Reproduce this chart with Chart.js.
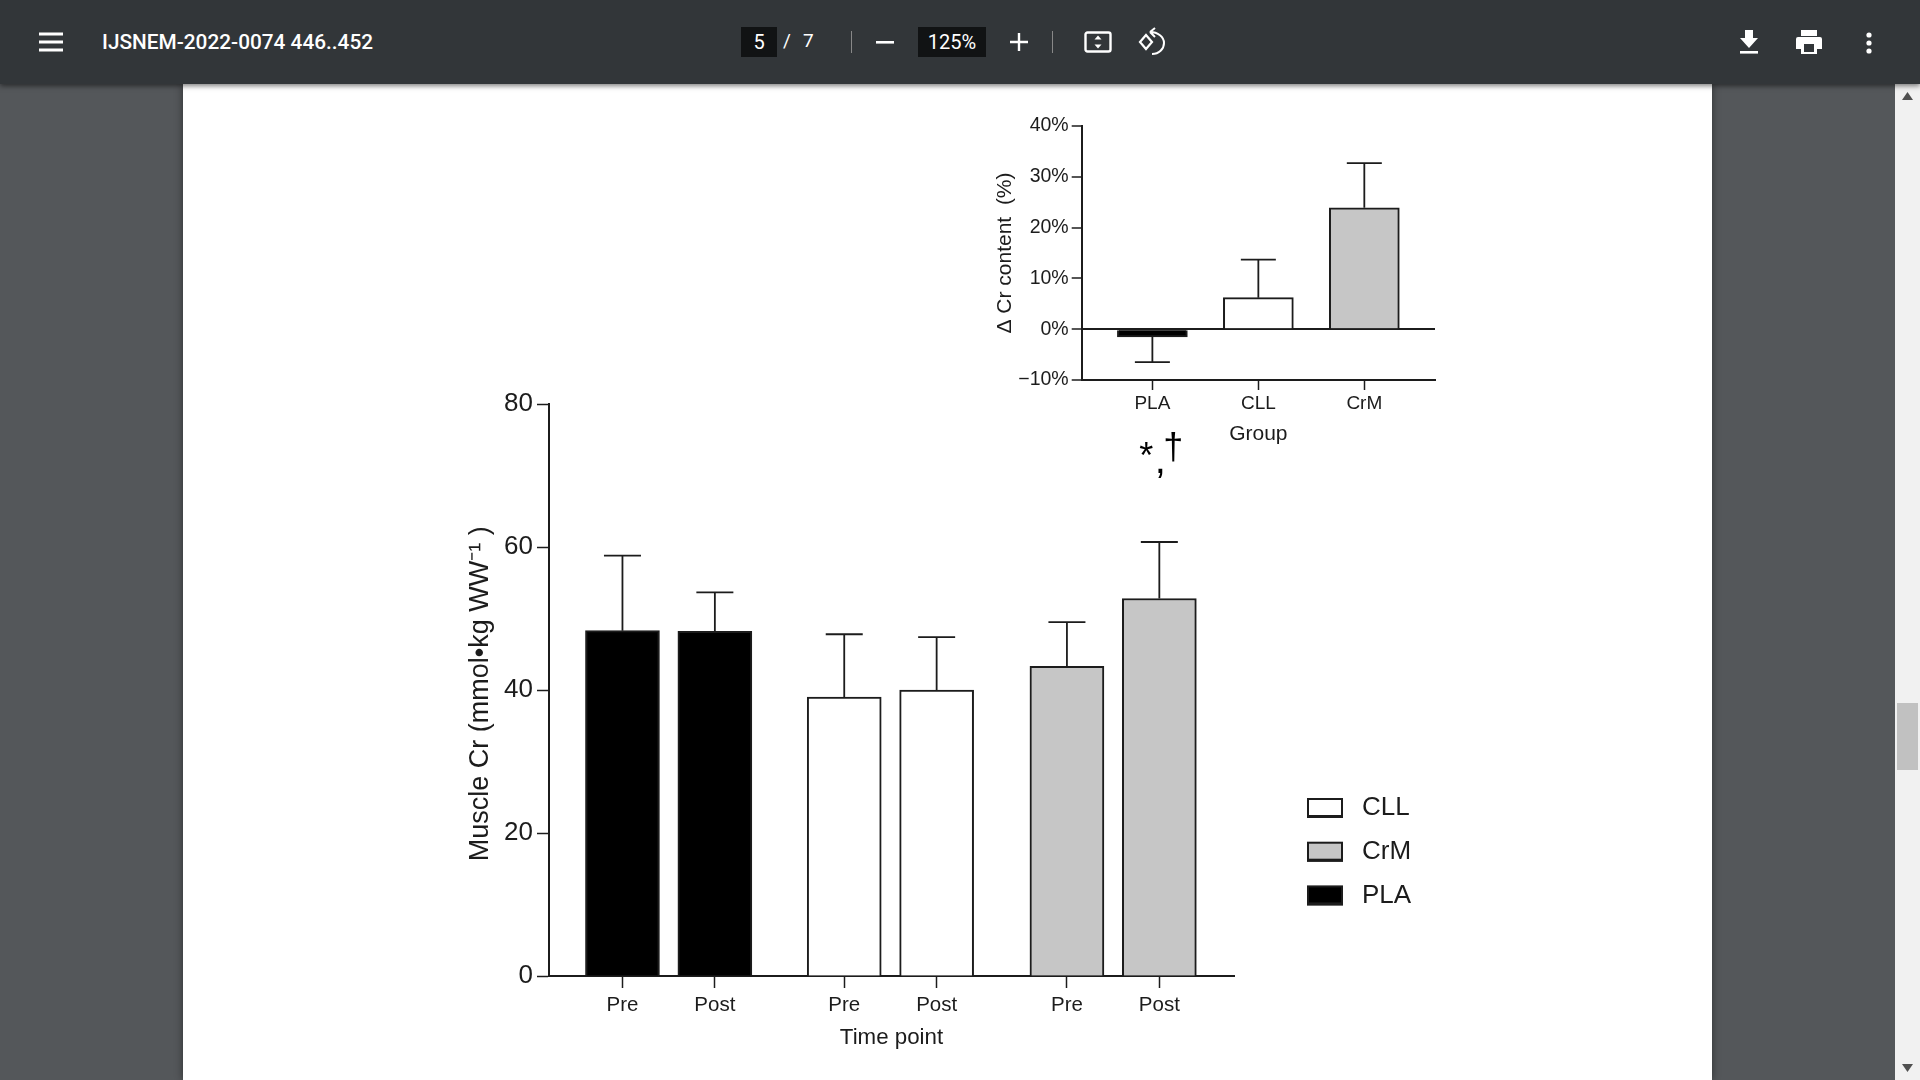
<!DOCTYPE html>
<html>
<head>
<meta charset="utf-8">
<script src="https://cdn.jsdelivr.net/npm/chart.js@4"></script>
<style>
  html, body { margin: 0; width: 1920px; height: 1080px; overflow: hidden; background: #54575a; }
  #bar { position: absolute; left: 0; top: 0; width: 1920px; height: 84px; background: #323639; color: #fff;
         font-family: Roboto, sans-serif; box-shadow: 0 2px 5px rgba(0,0,0,.5); z-index: 5; }
  #bar span, #bar svg, #bar i { position: absolute; }
  #name { left: 102px; top: 30px; font-size: 20.8px; font-weight: 500; white-space: nowrap; }
  .box { background: #111314; height: 30px; top: 27px; font-size: 20px; line-height: 30px; text-align: center; }
  .sep { width: 1px; height: 22px; top: 31px; background: #888; }
  #page { position: absolute; left: 183px; top: 84px; width: 1529px; height: 996px; background: #fff; box-shadow: 0 0 8px rgba(0,0,0,.45); }
  #scroll { position: absolute; left: 1895px; top: 84px; width: 25px; height: 996px; background: #f1f1f1; }
  #thumb { position: absolute; left: 2px; top: 619px; width: 21px; height: 67px; background: #c1c1c1; }
  canvas { position: absolute; }
  #main { left: 440px; top: 380px; }
  #inset { left: 960px; top: 100px; }
</style>
</head>
<body>
<div id="page"></div>
<div id="scroll"><div id="thumb"></div>
  <svg style="position:absolute;left:7px;top:8px" width="11" height="8"><path d="M5.5 0L11 8H0z" fill="#505050"/></svg>
  <svg style="position:absolute;left:7px;top:980px" width="11" height="8"><path d="M5.5 8L11 0H0z" fill="#505050"/></svg>
</div>
<div id="bar">
  <svg style="left:38px;top:32px" width="26" height="20"><path d="M1 2h24M1 10h24M1 18h24" stroke="#fff" stroke-width="3"/></svg>
  <span id="name">IJSNEM-2022-0074 446..452</span>
  <span class="box" style="left:741px;width:36px">5</span>
  <span style="left:783px;top:29px;font-size:19px">/</span>
  <span style="left:803px;top:29px;font-size:19px">7</span>
  <i class="sep" style="left:851px"></i>
  <svg style="left:876px;top:41px" width="18" height="3"><rect width="18" height="2.6" fill="#fff"/></svg>
  <span class="box" style="left:918px;width:68px">125%</span>
  <svg style="left:1009px;top:32px" width="20" height="20"><path d="M10 1v18M1 10h18" stroke="#fff" stroke-width="2.4"/></svg>
  <i class="sep" style="left:1052px"></i>
  <svg style="left:1084px;top:29px" width="28" height="26"><rect x="1.5" y="3.5" width="25" height="19" rx="2" fill="none" stroke="#fff" stroke-width="2.4"/><path d="M14 6.5l3.5 4h-7zM14 19.5l3.5-4h-7z" fill="#fff"/></svg>
  <svg style="left:1137px;top:27px" width="30" height="30"><path d="M9 9l6 7-6 7-6-7z" fill="none" stroke="#fff" stroke-width="2.2" transform="translate(0,-1)"/><path d="M13 5c8 0 14 5 14 11s-5 11-12 11M13 5l5-4M13 5l5 5" fill="none" stroke="#fff" stroke-width="2"/></svg>
  <svg style="left:1739px;top:29px" width="20" height="26"><path d="M6 1h8v8h5l-9 10-9-10h5z" fill="#fff"/><rect x="1" y="22" width="18" height="2.6" fill="#fff"/></svg>
  <svg style="left:1795px;top:29px" width="28" height="26"><path d="M6 1h16v6H6zM3 8h22a2 2 0 0 1 2 2v10h-5v5H6v-5H1V10a2 2 0 0 1 2-2zM9 15v8h10v-8z" fill="#fff" fill-rule="evenodd"/></svg>
  <svg style="left:1864px;top:31px" width="10" height="24"><circle cx="5" cy="4" r="2.6" fill="#fff"/><circle cx="5" cy="12" r="2.6" fill="#fff"/><circle cx="5" cy="20" r="2.6" fill="#fff"/></svg>
</div>
<canvas id="main"></canvas>
<canvas id="inset"></canvas>
<script>
const ink = "#1c1c1c";
const font = "'Liberation Sans', Arial, sans-serif";
const colors = { PLA: "#000000", CLL: "#ffffff", CrM: "#c6c6c6" };

// x is in bar-spacing units, the groups sit a bit further apart
const timepoints = [
  { group: "PLA", x: 0, label: "Pre", mean: 48.3, top: 58.8 },
  { group: "PLA", x: 1, label: "Post", mean: 48.2, top: 53.65 },
  { group: "CLL", x: 2.4, label: "Pre", mean: 39.0, top: 47.8 },
  { group: "CLL", x: 3.4, label: "Post", mean: 40.0, top: 47.4 },
  { group: "CrM", x: 4.81, label: "Pre", mean: 43.3, top: 49.5 },
  { group: "CrM", x: 5.81, label: "Post", mean: 52.8, top: 60.7 },
];
const changes = [
  { group: "PLA", x: 0, mean: -1.5, end: -6.5 },
  { group: "CLL", x: 1, mean: 6.2, end: 13.7 },
  { group: "CrM", x: 2, mean: 23.9, end: 32.7 },
];

const errorBars = {
  id: "errorBars",
  afterDatasetsDraw(chart, args, opts) {
    const { ctx, scales: { x, y } } = chart;
    ctx.save();
    ctx.strokeStyle = ink;
    ctx.lineWidth = opts.width;
    opts.rows.forEach((r) => {
      const px = x.getPixelForValue(r.x);
      const from = y.getPixelForValue(r.mean);
      const to = y.getPixelForValue(r.end);
      ctx.beginPath();
      ctx.moveTo(px, from);
      ctx.lineTo(px, to);
      ctx.moveTo(px - opts.cap / 2, to);
      ctx.lineTo(px + opts.cap / 2, to);
      ctx.stroke();
    });
    ctx.restore();
  },
};

// legend and the significance marks of the big panel
const extras = {
  id: "extras",
  afterDraw(chart) {
    const { ctx, scales: { x } } = chart;
    ctx.save();
    ["CLL", "CrM", "PLA"].forEach((name, i) => {
      const top = 419 + i * 43.7;
      ctx.fillStyle = colors[name];
      ctx.strokeStyle = ink;
      ctx.lineWidth = 2;
      ctx.fillRect(868, top, 34, 18);
      ctx.strokeRect(868, top, 34, 18);
      ctx.fillStyle = ink;
      ctx.fillRect(867, top + 16, 36, 3);
      ctx.font = "26px " + font;
      ctx.textBaseline = "middle";
      ctx.textAlign = "left";
      ctx.fillText(name, 922, top + 9);
    });
    const px = x.getPixelForValue(5.81);
    ctx.fillStyle = "#000";
    ctx.textAlign = "center";
    ctx.font = "36px " + font;
    ctx.fillText("*", px - 13, 78);
    ctx.fillText("†", px + 14, 69);
    ctx.font = "40px " + font;
    ctx.fillText(",", px + 1, 82);
    ctx.restore();
  },
};

function axisLines(tickLen, width) {
  return { color: "transparent", tickColor: ink, tickLength: tickLen, tickWidth: width, drawTicks: true, offset: false };
}

const mainCanvas = document.getElementById("main");
mainCanvas.width = 1000; mainCanvas.height = 671;
mainCanvas.style.width = "1000px"; mainCanvas.style.height = "671px";
new Chart(mainCanvas, {
  type: "bar",
  data: {
    datasets: ["PLA", "CLL", "CrM"].map((g) => ({
      label: g,
      data: timepoints.filter((t) => t.group === g).map((t) => ({ x: t.x, y: t.mean })),
      backgroundColor: colors[g],
      borderColor: ink,
      borderWidth: 2,
      barThickness: 74,
      grouped: false,
    })),
  },
  options: {
    responsive: false,
    animation: false,
    layout: { padding: { left: 0, right: 206, top: 24, bottom: 0 } },
    scales: {
      x: {
        type: "linear",
        offset: false,
        min: -0.795,
        max: 6.618,
        afterBuildTicks(axis) {
          axis.ticks = timepoints.map((t) => ({ value: t.x }));
        },
        afterFit(axis) {
          axis.height = 75;
        },
        ticks: {
          color: ink,
          font: { family: font, size: 20.5 },
          maxRotation: 0,
          autoSkip: false,
          padding: 5,
          callback(v) {
            return timepoints.find((t) => t.x === v).label;
          },
        },
        grid: axisLines(12, 1.5),
        border: { color: ink, width: 2 },
        title: { display: true, text: "Time point", color: ink, font: { family: font, size: 22.3 }, padding: { top: 7, bottom: 0 } },
      },
      y: {
        min: 0,
        max: 80,
        afterFit(axis) {
          axis.width = 109;
        },
        ticks: { stepSize: 20, color: ink, font: { family: font, size: 26 }, padding: 4 },
        grid: axisLines(12, 1.5),
        border: { color: ink, width: 2 },
        title: { display: true, text: "Muscle Cr (mmol•kg WW⁻¹ )\u00a0", color: ink, font: { family: font, size: 27 }, padding: 24 },
      },
    },
    plugins: {
      legend: { display: false },
      tooltip: { enabled: false },
      errorBars: { rows: timepoints.map((t) => ({ x: t.x, mean: t.mean, end: t.top })), width: 1.8, cap: 37 },
    },
  },
  plugins: [errorBars, extras],
});

const insetCanvas = document.getElementById("inset");
insetCanvas.width = 500; insetCanvas.height = 347;
insetCanvas.style.width = "500px"; insetCanvas.style.height = "347px";
new Chart(insetCanvas, {
  type: "bar",
  data: {
    datasets: [{
      data: changes.map((c) => ({ x: c.x, y: c.mean })),
      backgroundColor: changes.map((c) => colors[c.group]),
      borderColor: ink,
      borderWidth: 2,
      barThickness: 70,
    }],
  },
  options: {
    responsive: false,
    animation: false,
    layout: { padding: { left: 0, right: 25, top: 26, bottom: 0 } },
    scales: {
      x: {
        type: "linear",
        offset: false,
        min: -0.667,
        max: 2.667,
        afterBuildTicks(axis) {
          axis.ticks = changes.map((c) => ({ value: c.x }));
        },
        afterFit(axis) {
          axis.height = 67;
        },
        ticks: {
          color: ink,
          font: { family: font, size: 19 },
          maxRotation: 0,
          padding: 2,
          callback(v) {
            return changes[v].group;
          },
        },
        grid: axisLines(10, 1.5),
        border: { color: ink, width: 2 },
        title: { display: true, text: "Group", color: ink, font: { family: font, size: 21 }, padding: { top: 8, bottom: 0 } },
      },
      y: {
        min: -10,
        max: 40,
        afterFit(axis) {
          axis.width = 121.7;
        },
        ticks: {
          stepSize: 10,
          color: ink,
          font: { family: font, size: 19.5 },
          padding: 3,
          callback(v) {
            return (v < 0 ? "−" + Math.abs(v) : v) + "%";
          },
        },
        grid: {
          ...axisLines(10, 1.5),
          color: (c) => (c.tick.value === 0 ? ink : "transparent"),
          lineWidth: 2,
        },
        border: { color: ink, width: 2 },
        title: { display: true, text: "Δ Cr content  (%)", color: ink, font: { family: font, size: 21 }, padding: 33 },
      },
    },
    plugins: {
      legend: { display: false },
      tooltip: { enabled: false },
      errorBars: { rows: changes.map((c) => ({ x: c.x, mean: c.mean, end: c.end })), width: 1.8, cap: 35 },
    },
  },
  plugins: [errorBars],
});
</script>
</body>
</html>
